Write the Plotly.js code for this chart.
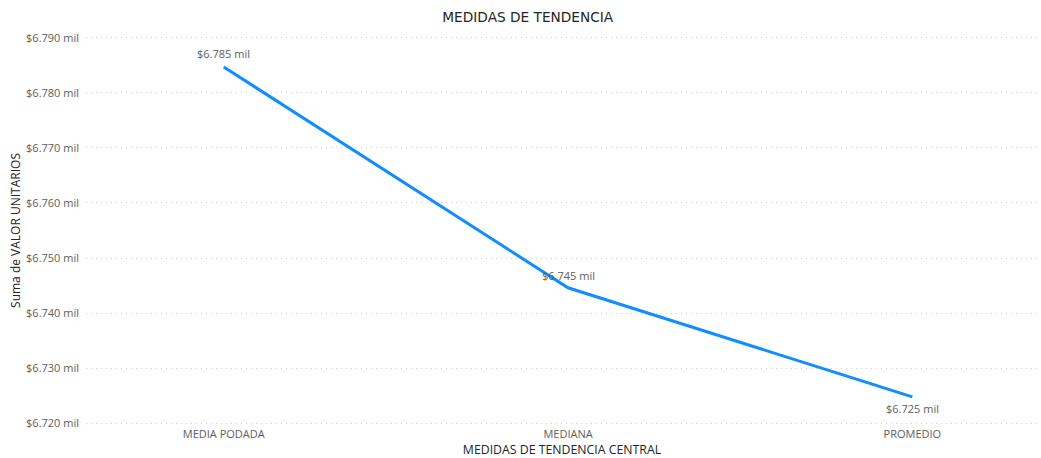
<!DOCTYPE html>
<html>
<head>
<meta charset="utf-8">
<script src="https://cdn.plot.ly/plotly-3.0.1.min.js"></script>
<style>html,body{margin:0;padding:0;background:#fff;}#chart{width:1041px;height:458px;}</style>
</head>
<body>
<div id="chart"></div>
<script>
var categories = ['MEDIA PODADA', 'MEDIANA', 'PROMEDIO'];
var values = [6784.7, 6744.6, 6724.8];
var dataLabels = ['$6.785 mil', '$6.745 mil', '$6.725 mil'];
var yTickVals = [6720, 6730, 6740, 6750, 6760, 6770, 6780, 6790];
var yTickText = ['$6.720 mil', '$6.730 mil', '$6.740 mil', '$6.750 mil', '$6.760 mil', '$6.770 mil', '$6.780 mil', '$6.790 mil'];

var labelShift = [13, 12, -12];

var trace = {
  x: categories,
  y: values,
  type: 'scatter',
  mode: 'lines',
  line: {color: '#118DFF', width: 3},
  hoverinfo: 'none',
  cliponaxis: false
};

var annotations = categories.map(function (c, i) {
  return {
    x: c, y: values[i], xref: 'x', yref: 'y',
    text: dataLabels[i], showarrow: false,
    yshift: labelShift[i], xanchor: 'center', yanchor: 'middle',
    font: {family: 'Open Sans, sans-serif', size: 11, color: '#605E5C'}
  };
});

var layout = {
  width: 1041,
  height: 458,
  margin: {l: 86, r: 3, t: 35, b: 32},
  paper_bgcolor: '#ffffff',
  plot_bgcolor: '#ffffff',
  showlegend: false,
  annotations: annotations,
  title: {
    text: 'MEDIDAS DE TENDENCIA',
    font: {family: 'DejaVu Sans, sans-serif', size: 13.7, color: '#252423'},
    x: 0.507, xanchor: 'center', y: 0.962, yanchor: 'middle'
  },
  xaxis: {
    type: 'category',
    range: [-0.4, 2.365],
    showgrid: false,
    zeroline: false,
    showline: false,
    ticks: '',
    tickfont: {family: 'Open Sans, sans-serif', size: 11, color: '#605E5C'},
    title: {
      text: 'MEDIDAS DE TENDENCIA CENTRAL',
      font: {family: 'Open Sans, sans-serif', size: 12.3, color: '#252423'},
      standoff: 1
    },
    automargin: false
  },
  yaxis: {
    range: [6719.5, 6790.5],
    tickvals: yTickVals,
    ticktext: yTickText,
    showgrid: true,
    gridcolor: '#D0CECC',
    griddash: '1px,4px',
    gridwidth: 1,
    zeroline: false,
    showline: false,
    ticks: '',
    ticklabelstandoff: 6,
    tickfont: {family: 'Open Sans, sans-serif', size: 11, color: '#605E5C'},
    title: {
      text: 'Suma de VALOR UNITARIOS',
      font: {family: 'Open Sans, sans-serif', size: 12, color: '#252423'},
      standoff: 2
    },
    automargin: false
  }
};

Plotly.newPlot('chart', [trace], layout, {displayModeBar: false, staticPlot: true});
</script>
</body>
</html>
